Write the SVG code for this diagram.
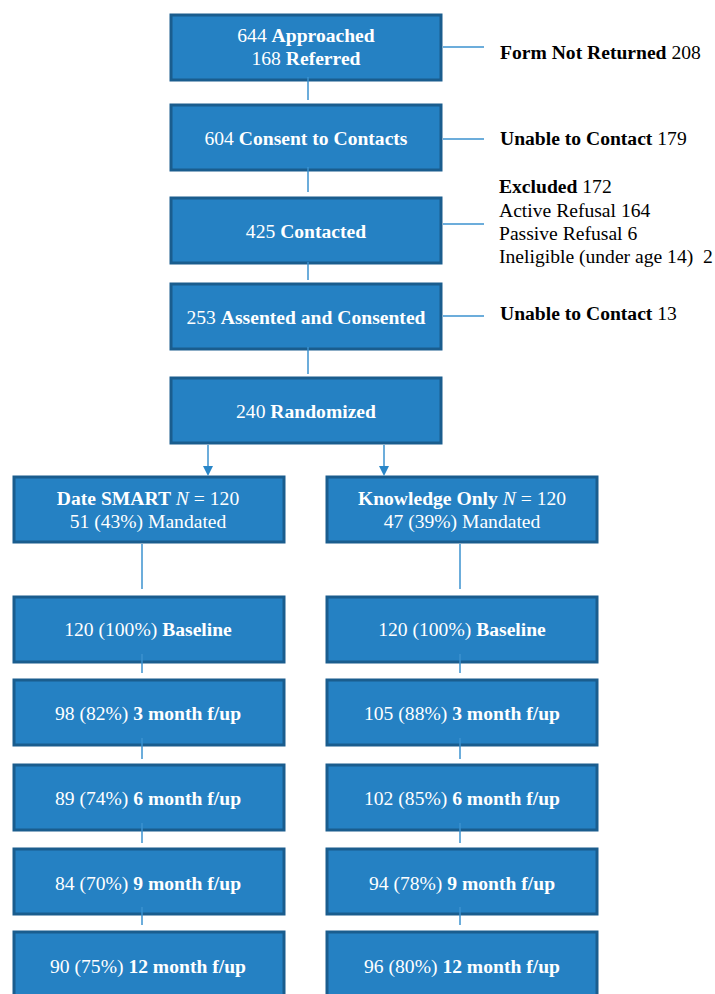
<svg xmlns="http://www.w3.org/2000/svg" width="715" height="994" viewBox="0 0 715 994">
<style>
.box{fill:#2581c3;stroke:#1a5d8e;stroke-width:3}
.bt{font-family:"Liberation Serif","Times New Roman",serif;font-size:19.6px;fill:#ffffff;text-anchor:middle}
.st{font-family:"Liberation Serif","Times New Roman",serif;font-size:19.6px;fill:#000000}
.ln{stroke:#3b92cf;stroke-width:1.5;fill:none}
.b{font-weight:bold}
.ah{fill:#2a86c8}
</style>
<g id="approached"><rect class="box" x="171" y="15" width="270" height="65"/>
<text class="bt" x="306" y="42">644 <tspan class="b">Approached</tspan></text>
<text class="bt" x="306" y="65">168 <tspan class="b">Referred</tspan></text></g>
<g id="consent"><rect class="box" x="171" y="105" width="270" height="65"/>
<text class="bt" x="306" y="145">604 <tspan class="b">Consent to Contacts</tspan></text></g>
<g id="contacted"><rect class="box" x="171" y="198" width="270" height="65"/>
<text class="bt" x="306" y="238">425 <tspan class="b">Contacted</tspan></text></g>
<g id="assented"><rect class="box" x="171" y="284" width="270" height="65"/>
<text class="bt" x="306" y="324">253 <tspan class="b">Assented and Consented</tspan></text></g>
<g id="randomized"><rect class="box" x="171" y="378" width="270" height="65"/>
<text class="bt" x="306" y="418">240 <tspan class="b">Randomized</tspan></text></g>
<g id="side-notes">
<text class="st" x="500" y="59"><tspan class="b">Form Not Returned</tspan> 208</text>
<text class="st" x="500" y="145"><tspan class="b">Unable to Contact</tspan> 179</text>
<text class="st" x="499" y="193"><tspan class="b">Excluded</tspan> 172</text>
<text class="st" x="499" y="217">Active Refusal 164</text>
<text class="st" x="499" y="240">Passive Refusal 6</text>
<text class="st" x="499" y="263">Ineligible (under age 14)&#160; 2</text>
<text class="st" x="500" y="320"><tspan class="b">Unable to Contact</tspan> 13</text>
</g>
<g id="date-smart"><rect class="box" x="14" y="477" width="270" height="65"/>
<text class="bt" x="148" y="505"><tspan class="b">Date SMART</tspan> <tspan font-style="italic">N</tspan> = 120</text>
<text class="bt" x="148" y="528">51 (43%) Mandated</text></g>
<g id="knowledge-only"><rect class="box" x="327" y="477" width="270" height="65"/>
<text class="bt" x="462" y="505"><tspan class="b">Knowledge Only</tspan> <tspan font-style="italic">N</tspan> = 120</text>
<text class="bt" x="462" y="528">47 (39%) Mandated</text></g>
<g id="ds-baseline"><rect class="box" x="14" y="597" width="270" height="65"/>
<text class="bt" x="148" y="636">120 (100%) <tspan class="b">Baseline</tspan></text></g>
<g id="ko-baseline"><rect class="box" x="327" y="597" width="270" height="65"/>
<text class="bt" x="462" y="636">120 (100%) <tspan class="b">Baseline</tspan></text></g>
<g id="ds-3m"><rect class="box" x="14" y="680" width="270" height="65"/>
<text class="bt" x="148" y="720">98 (82%) <tspan class="b">3 month f/up</tspan></text></g>
<g id="ko-3m"><rect class="box" x="327" y="680" width="270" height="65"/>
<text class="bt" x="462" y="720">105 (88%) <tspan class="b">3 month f/up</tspan></text></g>
<g id="ds-6m"><rect class="box" x="14" y="765" width="270" height="65"/>
<text class="bt" x="148" y="805">89 (74%) <tspan class="b">6 month f/up</tspan></text></g>
<g id="ko-6m"><rect class="box" x="327" y="765" width="270" height="65"/>
<text class="bt" x="462" y="805">102 (85%) <tspan class="b">6 month f/up</tspan></text></g>
<g id="ds-9m"><rect class="box" x="14" y="849" width="270" height="65"/>
<text class="bt" x="148" y="890">84 (70%) <tspan class="b">9 month f/up</tspan></text></g>
<g id="ko-9m"><rect class="box" x="327" y="849" width="270" height="65"/>
<text class="bt" x="462" y="890">94 (78%) <tspan class="b">9 month f/up</tspan></text></g>
<g id="ds-12m"><rect class="box" x="14" y="932" width="270" height="65"/>
<text class="bt" x="148" y="973">90 (75%) <tspan class="b">12 month f/up</tspan></text></g>
<g id="ko-12m"><rect class="box" x="327" y="932" width="270" height="65"/>
<text class="bt" x="462" y="973">96 (80%) <tspan class="b">12 month f/up</tspan></text></g>
<g id="connectors">
<line class="ln" x1="308" y1="77" x2="308" y2="100"/>
<line class="ln" x1="308" y1="167" x2="308" y2="192"/>
<line class="ln" x1="308" y1="262" x2="308" y2="280"/>
<line class="ln" x1="308" y1="347" x2="308" y2="374"/>
<line class="ln" x1="443" y1="47" x2="484" y2="47"/>
<line class="ln" x1="443" y1="139" x2="484" y2="139"/>
<line class="ln" x1="443" y1="224" x2="484" y2="224"/>
<line class="ln" x1="443" y1="316" x2="484" y2="316"/>
<line class="ln" x1="208" y1="445" x2="208" y2="468"/>
<path class="ah" d="M203,466 L213,466 L208,476 Z"/>
<line class="ln" x1="384" y1="445" x2="384" y2="468"/>
<path class="ah" d="M379,466 L389,466 L384,476 Z"/>
<line class="ln" x1="142" y1="544" x2="142" y2="589"/>
<line class="ln" x1="460" y1="544" x2="460" y2="589"/>
<line class="ln" x1="142" y1="654" x2="142" y2="673"/>
<line class="ln" x1="460" y1="654" x2="460" y2="673"/>
<line class="ln" x1="142" y1="738" x2="142" y2="759"/>
<line class="ln" x1="460" y1="738" x2="460" y2="759"/>
<line class="ln" x1="142" y1="823" x2="142" y2="843"/>
<line class="ln" x1="460" y1="823" x2="460" y2="843"/>
<line class="ln" x1="142" y1="907" x2="142" y2="925"/>
<line class="ln" x1="460" y1="907" x2="460" y2="925"/>
</g>
</svg>
